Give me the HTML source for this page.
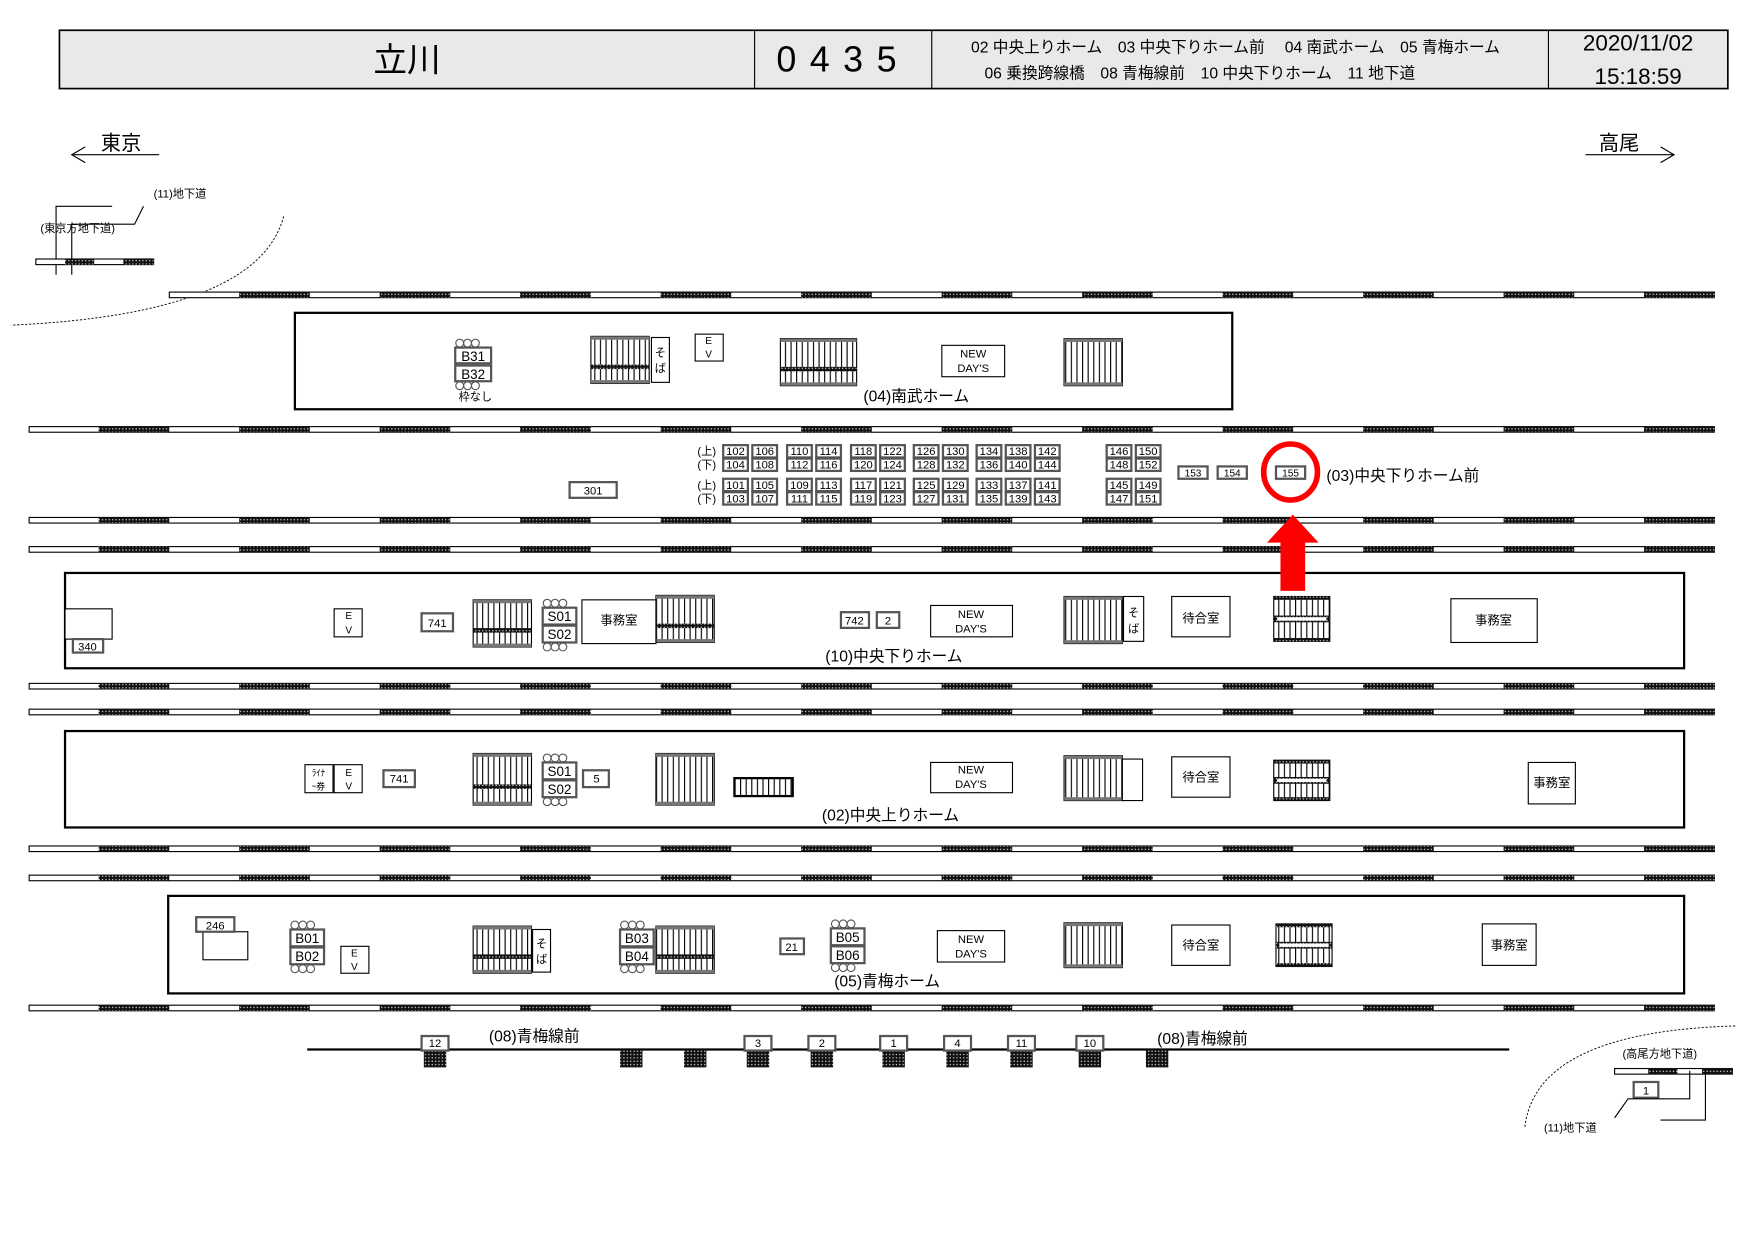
<!DOCTYPE html>
<html><head><meta charset="utf-8">
<style>
html,body{margin:0;padding:0;background:#fff;}
svg{display:block;}
text{font-family:"Liberation Sans","Noto Sans CJK JP",sans-serif;fill:#000;}
</style></head>
<body>
<svg id="s" width="1757" height="1243" viewBox="0 0 1567 1108.6" preserveAspectRatio="none" xmlns="http://www.w3.org/2000/svg">
<defs>
<pattern id="h" width="3" height="3" patternUnits="userSpaceOnUse"><rect width="3" height="3" fill="#111"/><rect x="1" y="1" width="1" height="1" fill="#fff"/></pattern>
<pattern id="st" width="5" height="4" patternUnits="userSpaceOnUse"><rect width="5" height="4" fill="#fff"/><rect x="0" width="1" height="4" fill="#000"/></pattern>
</defs>
<!-- header -->
<rect x="53" y="27" width="1488" height="52" fill="#e9e9e9" stroke="#000" stroke-width="1.5"/>
<line x1="673" y1="27" x2="673" y2="79" stroke="#000"/>
<line x1="831" y1="27" x2="831" y2="79" stroke="#000"/>
<line x1="1381" y1="27" x2="1381" y2="79" stroke="#000"/>
<text x="363" y="64" font-size="30" text-anchor="middle">立川</text>
<text x="752" y="64" font-size="32" text-anchor="middle" letter-spacing="12">0435</text>
<text x="866" y="47" font-size="14">02 中央上りホーム　03 中央下りホーム前　 04 南武ホーム　05 青梅ホーム</text>
<text x="878" y="70" font-size="14">06 乗換跨線橋　08 青梅線前　10 中央下りホーム　11 地下道</text>
<text x="1461" y="45" font-size="20" text-anchor="middle">2020/11/02</text>
<text x="1461" y="75" font-size="20" text-anchor="middle">15:18:59</text>
<!-- directions -->
<text x="90" y="134" font-size="18">東京</text>
<line x1="64" y1="138" x2="142" y2="138" stroke="#000"/>
<polyline points="76,131 64,138 76,145" fill="none" stroke="#000"/>
<text x="1426" y="134" font-size="18">高尾</text>
<line x1="1414" y1="138" x2="1493" y2="138" stroke="#000"/>
<polyline points="1481,131 1493,138 1481,145" fill="none" stroke="#000"/>
<!-- top-left underpass -->
<text x="137" y="176" font-size="10">(11)地下道</text>
<text x="36" y="207" font-size="10">(東京方地下道)</text>
<polyline points="50,245 50,184 100,184" fill="none" stroke="#000"/>
<polyline points="64,245 64,200 120,200 128,184" fill="none" stroke="#000"/>
<rect x="32" y="231" width="105" height="5" fill="#fff" stroke="#000"/>
<rect x="58" y="231" width="26" height="5" fill="url(#h)"/><rect x="110" y="231" width="27" height="5" fill="url(#h)"/>
<path d="M253,193 Q230,280 10,290" fill="none" stroke="#000" stroke-dasharray="2,1.5" stroke-width="0.8"/>
<!-- bottom-right underpass -->
<path d="M1360,1005 Q1370,920 1548,915" fill="none" stroke="#000" stroke-dasharray="2,1.5" stroke-width="0.8"/>
<text x="1447" y="943" font-size="10">(高尾方地下道)</text>
<rect x="1440" y="953" width="105" height="5" fill="#fff" stroke="#000"/>
<rect x="1470" y="953" width="26" height="5" fill="url(#h)"/><rect x="1518" y="953" width="27" height="5" fill="url(#h)"/>
<rect x="1457" y="965" width="22" height="14" fill="#fff" stroke="#555" stroke-width="2"/><text x="1468" y="976" font-size="10" text-anchor="middle">1</text>
<polyline points="1440,997 1452,980 1507,980 1507,955" fill="none" stroke="#000"/>
<polyline points="1481,999 1521,999 1521,955" fill="none" stroke="#000"/>
<text x="1377" y="1009" font-size="10">(11)地下道</text>
<g id="tracks"></g>
<!-- platforms -->
<rect x="263" y="279" width="836" height="86" fill="#fff" stroke="#000" stroke-width="2"/>
<rect x="58" y="511" width="1444" height="85" fill="#fff" stroke="#000" stroke-width="2"/>
<rect x="58" y="652" width="1444" height="86" fill="#fff" stroke="#000" stroke-width="2"/>
<rect x="150" y="799" width="1352" height="87" fill="#fff" stroke="#000" stroke-width="2"/>
<g id="stairs"></g>
<!-- nambu platform -->
<g font-size="12">
<rect x="406" y="310" width="32" height="14" fill="#fff" stroke="#555" stroke-width="2"/><text x="422" y="322" text-anchor="middle">B31</text>
<rect x="406" y="326" width="32" height="14" fill="#fff" stroke="#555" stroke-width="2"/><text x="422" y="338" text-anchor="middle">B32</text>
</g>
<g fill="none" stroke="#555"><circle cx="410" cy="306" r="3.5"/><circle cx="417" cy="306" r="3.5"/><circle cx="424" cy="306" r="3.5"/><circle cx="410" cy="344" r="3.5"/><circle cx="417" cy="344" r="3.5"/><circle cx="424" cy="344" r="3.5"/></g>
<text x="409" y="357" font-size="10">枠なし</text>
<rect x="581" y="301" width="16" height="40" fill="#fff" stroke="#000"/><text x="589" y="318" font-size="10" text-anchor="middle">そ</text><text x="589" y="332" font-size="10" text-anchor="middle">ば</text>
<rect x="620" y="298" width="25" height="24" fill="#fff" stroke="#000"/><text x="632" y="307" font-size="9" text-anchor="middle">E</text><text x="632" y="319" font-size="9" text-anchor="middle">V</text>
<rect x="840" y="308" width="56" height="28" fill="#fff" stroke="#000"/><text x="868" y="319" font-size="10" text-anchor="middle">NEW</text><text x="868" y="332" font-size="10" text-anchor="middle">DAY'S</text>
<text x="770" y="358" font-size="14">(04)南武ホーム</text>
<!-- 03 grid -->
<g id="grid" font-size="10"></g>
<text x="622" y="406" font-size="10">(上)</text><text x="622" y="418" font-size="10">(下)</text>
<text x="622" y="436" font-size="10">(上)</text><text x="622" y="448" font-size="10">(下)</text>
<rect x="508" y="430" width="42" height="14" fill="#fff" stroke="#555" stroke-width="2"/><text x="529" y="441" font-size="10" text-anchor="middle">301</text>
<rect x="1051" y="416" width="26" height="11" fill="#fff" stroke="#555" stroke-width="2"/><text x="1064" y="425" font-size="9" text-anchor="middle">153</text>
<rect x="1086" y="416" width="26" height="11" fill="#fff" stroke="#555" stroke-width="2"/><text x="1099" y="425" font-size="9" text-anchor="middle">154</text>
<rect x="1138" y="416" width="26" height="11" fill="#fff" stroke="#555" stroke-width="2"/><text x="1151" y="425" font-size="9" text-anchor="middle">155</text>
<ellipse cx="1151" cy="421" rx="24" ry="25" fill="none" stroke="#f00" stroke-width="5"/>
<text x="1183" y="429" font-size="14">(03)中央下りホーム前</text>
<polygon points="1153,459 1176,484 1164,484 1164,527 1142,527 1142,484 1130,484" fill="#f00"/>
<!-- 10 platform -->
<rect x="58" y="543" width="42" height="27" fill="#fff" stroke="#000"/>
<rect x="65" y="570" width="27" height="12" fill="#fff" stroke="#555" stroke-width="2"/><text x="78" y="580" font-size="10" text-anchor="middle">340</text>
<rect x="298" y="543" width="25" height="25" fill="#fff" stroke="#000"/><text x="311" y="552" font-size="9" text-anchor="middle">E</text><text x="311" y="565" font-size="9" text-anchor="middle">V</text>
<rect x="376" y="547" width="28" height="16" fill="#fff" stroke="#555" stroke-width="2"/><text x="390" y="559" font-size="10" text-anchor="middle">741</text>
<g font-size="12"><rect x="484" y="542" width="30" height="15" fill="#fff" stroke="#555" stroke-width="2"/><text x="499" y="554" text-anchor="middle">S01</text>
<rect x="484" y="558" width="30" height="15" fill="#fff" stroke="#555" stroke-width="2"/><text x="499" y="570" text-anchor="middle">S02</text></g>
<g fill="none" stroke="#555"><circle cx="488" cy="538" r="3.5"/><circle cx="495" cy="538" r="3.5"/><circle cx="502" cy="538" r="3.5"/><circle cx="488" cy="577" r="3.5"/><circle cx="495" cy="577" r="3.5"/><circle cx="502" cy="577" r="3.5"/></g>
<rect x="519" y="535" width="66" height="39" fill="#fff" stroke="#000"/><text x="552" y="557" font-size="11" text-anchor="middle">事務室</text>
<rect x="750" y="546" width="25" height="14" fill="#fff" stroke="#555" stroke-width="2"/><text x="762" y="557" font-size="10" text-anchor="middle">742</text>
<rect x="782" y="546" width="20" height="14" fill="#fff" stroke="#555" stroke-width="2"/><text x="792" y="557" font-size="10" text-anchor="middle">2</text>
<rect x="830" y="540" width="73" height="28" fill="#fff" stroke="#000"/><text x="866" y="551" font-size="10" text-anchor="middle">NEW</text><text x="866" y="564" font-size="10" text-anchor="middle">DAY'S</text>
<rect x="1002" y="532" width="18" height="40" fill="#fff" stroke="#000"/><text x="1011" y="550" font-size="10" text-anchor="middle">そ</text><text x="1011" y="564" font-size="10" text-anchor="middle">ば</text>
<rect x="1045" y="532" width="52" height="36" fill="#fff" stroke="#000"/><text x="1071" y="555" font-size="11" text-anchor="middle">待合室</text>
<rect x="1294" y="534" width="77" height="39" fill="#fff" stroke="#000"/><text x="1332" y="557" font-size="11" text-anchor="middle">事務室</text>
<text x="736" y="590" font-size="14">(10)中央下りホーム</text>
<!-- 02 platform -->
<rect x="272" y="682" width="25" height="25" fill="#fff" stroke="#000"/><text x="284" y="692" font-size="8" text-anchor="middle">ﾗｲﾅ</text><text x="284" y="704" font-size="8" text-anchor="middle">ｰ券</text>
<rect x="298" y="682" width="25" height="25" fill="#fff" stroke="#000"/><text x="311" y="692" font-size="9" text-anchor="middle">E</text><text x="311" y="704" font-size="9" text-anchor="middle">V</text>
<rect x="342" y="687" width="28" height="15" fill="#fff" stroke="#555" stroke-width="2"/><text x="356" y="698" font-size="10" text-anchor="middle">741</text>
<g font-size="12"><rect x="484" y="680" width="30" height="15" fill="#fff" stroke="#555" stroke-width="2"/><text x="499" y="692" text-anchor="middle">S01</text>
<rect x="484" y="696" width="30" height="15" fill="#fff" stroke="#555" stroke-width="2"/><text x="499" y="708" text-anchor="middle">S02</text></g>
<g fill="none" stroke="#555"><circle cx="488" cy="676" r="3.5"/><circle cx="495" cy="676" r="3.5"/><circle cx="502" cy="676" r="3.5"/><circle cx="488" cy="715" r="3.5"/><circle cx="495" cy="715" r="3.5"/><circle cx="502" cy="715" r="3.5"/></g>
<rect x="520" y="687" width="23" height="15" fill="#fff" stroke="#555" stroke-width="2"/><text x="532" y="698" font-size="10" text-anchor="middle">5</text>
<rect x="830" y="680" width="73" height="27" fill="#fff" stroke="#000"/><text x="866" y="690" font-size="10" text-anchor="middle">NEW</text><text x="866" y="703" font-size="10" text-anchor="middle">DAY'S</text>
<rect x="1045" y="675" width="52" height="36" fill="#fff" stroke="#000"/><text x="1071" y="697" font-size="11" text-anchor="middle">待合室</text>
<rect x="1363" y="680" width="42" height="37" fill="#fff" stroke="#000"/><text x="1384" y="702" font-size="11" text-anchor="middle">事務室</text>
<text x="733" y="732" font-size="14">(02)中央上りホーム</text>
<!-- 05 platform -->
<rect x="181" y="831" width="40" height="25" fill="#fff" stroke="#000"/>
<rect x="175" y="818" width="34" height="13" fill="#fff" stroke="#555" stroke-width="2"/><text x="192" y="829" font-size="10" text-anchor="middle">246</text>
<g font-size="12"><rect x="259" y="829" width="30" height="15" fill="#fff" stroke="#555" stroke-width="2"/><text x="274" y="841" text-anchor="middle">B01</text>
<rect x="259" y="845" width="30" height="15" fill="#fff" stroke="#555" stroke-width="2"/><text x="274" y="857" text-anchor="middle">B02</text>
<rect x="553" y="829" width="30" height="15" fill="#fff" stroke="#555" stroke-width="2"/><text x="568" y="841" text-anchor="middle">B03</text>
<rect x="553" y="845" width="30" height="15" fill="#fff" stroke="#555" stroke-width="2"/><text x="568" y="857" text-anchor="middle">B04</text>
<rect x="741" y="828" width="30" height="15" fill="#fff" stroke="#555" stroke-width="2"/><text x="756" y="840" text-anchor="middle">B05</text>
<rect x="741" y="844" width="30" height="15" fill="#fff" stroke="#555" stroke-width="2"/><text x="756" y="856" text-anchor="middle">B06</text></g>
<g fill="none" stroke="#555"><circle cx="263" cy="825" r="3.5"/><circle cx="270" cy="825" r="3.5"/><circle cx="277" cy="825" r="3.5"/><circle cx="263" cy="864" r="3.5"/><circle cx="270" cy="864" r="3.5"/><circle cx="277" cy="864" r="3.5"/>
<circle cx="557" cy="825" r="3.5"/><circle cx="564" cy="825" r="3.5"/><circle cx="571" cy="825" r="3.5"/><circle cx="557" cy="864" r="3.5"/><circle cx="564" cy="864" r="3.5"/><circle cx="571" cy="864" r="3.5"/>
<circle cx="745" cy="824" r="3.5"/><circle cx="752" cy="824" r="3.5"/><circle cx="759" cy="824" r="3.5"/><circle cx="745" cy="863" r="3.5"/><circle cx="752" cy="863" r="3.5"/><circle cx="759" cy="863" r="3.5"/></g>
<rect x="304" y="844" width="25" height="24" fill="#fff" stroke="#000"/><text x="316" y="853" font-size="9" text-anchor="middle">E</text><text x="316" y="865" font-size="9" text-anchor="middle">V</text>
<rect x="475" y="829" width="16" height="38" fill="#fff" stroke="#000"/><text x="483" y="845" font-size="10" text-anchor="middle">そ</text><text x="483" y="859" font-size="10" text-anchor="middle">ば</text>
<rect x="696" y="837" width="21" height="14" fill="#fff" stroke="#555" stroke-width="2"/><text x="706" y="848" font-size="10" text-anchor="middle">21</text>
<rect x="836" y="830" width="60" height="28" fill="#fff" stroke="#000"/><text x="866" y="841" font-size="10" text-anchor="middle">NEW</text><text x="866" y="854" font-size="10" text-anchor="middle">DAY'S</text>
<rect x="1045" y="825" width="52" height="36" fill="#fff" stroke="#000"/><text x="1071" y="847" font-size="11" text-anchor="middle">待合室</text>
<rect x="1322" y="824" width="48" height="37" fill="#fff" stroke="#000"/><text x="1346" y="847" font-size="11" text-anchor="middle">事務室</text>
<text x="744" y="880" font-size="14">(05)青梅ホーム</text>
<!-- 08 line -->
<line x1="274" y1="936" x2="1346" y2="936" stroke="#000" stroke-width="2"/>
<text x="436" y="929" font-size="14">(08)青梅線前</text>
<text x="1032" y="931" font-size="14">(08)青梅線前</text>
<g id="posts" font-size="10"></g>
</svg>
<script>
(function(){
var NS="http://www.w3.org/2000/svg";
function el(p,n,a,t){var e=document.createElementNS(NS,n);for(var k in a)e.setAttribute(k,a[k]);if(t!==undefined)e.textContent=t;p.appendChild(e);return e;}
var T=document.getElementById('tracks');
var ys=[263,383,464,490,612,635,757,783,899];
ys.forEach(function(y,i){
 var x0=i==0?151:26;
 el(T,'rect',{x:x0,y:y-2.5,width:1529-x0,height:5,fill:'#fff',stroke:'#000','stroke-width':1});
 for(var k=0;k<12;k++){var x=88+k*125.3;if(x<x0)continue;el(T,'rect',{x:x,y:y-2.5,width:63,height:5,fill:'url(#h)'});}
});
var S=document.getElementById('stairs');
function st(x,y,w,h,mid,dark){
 el(S,'rect',{x:x,y:y,width:w,height:h,fill:'url(#st)',stroke:'#000','stroke-width':1});
 el(S,'rect',{x:x,y:y,width:w,height:3,fill:dark?'url(#h)':'#777'});
 el(S,'rect',{x:x,y:y+h-3,width:w,height:3,fill:dark?'url(#h)':'#777'});
 if(mid)el(S,'rect',{x:x,y:y+h*0.6,width:w,height:4,fill:'url(#h)'});
 if(dark){el(S,'rect',{x:x,y:y+h/2-3,width:w,height:6,fill:'url(#h)'});el(S,'rect',{x:x+3,y:y+h/2-1.5,width:w-6,height:3,fill:'#fff'});}
}
st(527,300,52,42,true);st(696,302,68,42,true);st(949,302,52,42,false);
st(422,535,52,42,true);st(585,531,52,42,true);st(949,532,52,42,false);st(1136,532,50,40,false,true);
st(422,672,52,46,true);st(585,672,52,46,false);st(949,674,52,40,false);st(1136,678,50,36,false,true);
el(S,'rect',{x:655,y:694,width:52,height:16,fill:'url(#st)',stroke:'#000','stroke-width':2});
el(S,'rect',{x:1001,y:677,width:18,height:37,fill:'#fff',stroke:'#000'});
st(422,826,52,42,true);st(585,826,52,42,true);st(949,823,52,40,false);st(1138,824,50,38,false,true);
var G=document.getElementById('grid');
var xs=[645,671,702,728,759,785,815,841,871,897,923,987,1013];
var rows=[[397,102],[409,104],[427,101],[439,103]];
rows.forEach(function(r){xs.forEach(function(x,i){
 el(G,'rect',{x:x,y:r[0],width:22,height:11,fill:'#fff',stroke:'#555','stroke-width':2});
 el(G,'text',{x:x+11,y:r[0]+9,'font-size':10,'text-anchor':'middle'},String(r[1]+i*4));
});});
var P=document.getElementById('posts');
[[388,'12'],[563,null],[620,null],[676,'3'],[733,'2'],[797,'1'],[854,'4'],[911,'11'],[972,'10'],[1032,null]].forEach(function(p){
 el(P,'rect',{x:p[0]-10,y:937,width:20,height:15,fill:'url(#h)'});
 if(p[1]){el(P,'rect',{x:p[0]-12,y:924,width:24,height:13,fill:'#fff',stroke:'#555','stroke-width':2});
 el(P,'text',{x:p[0],y:934,'font-size':10,'text-anchor':'middle'},p[1]);}
});
})();
</script>
</body></html>
